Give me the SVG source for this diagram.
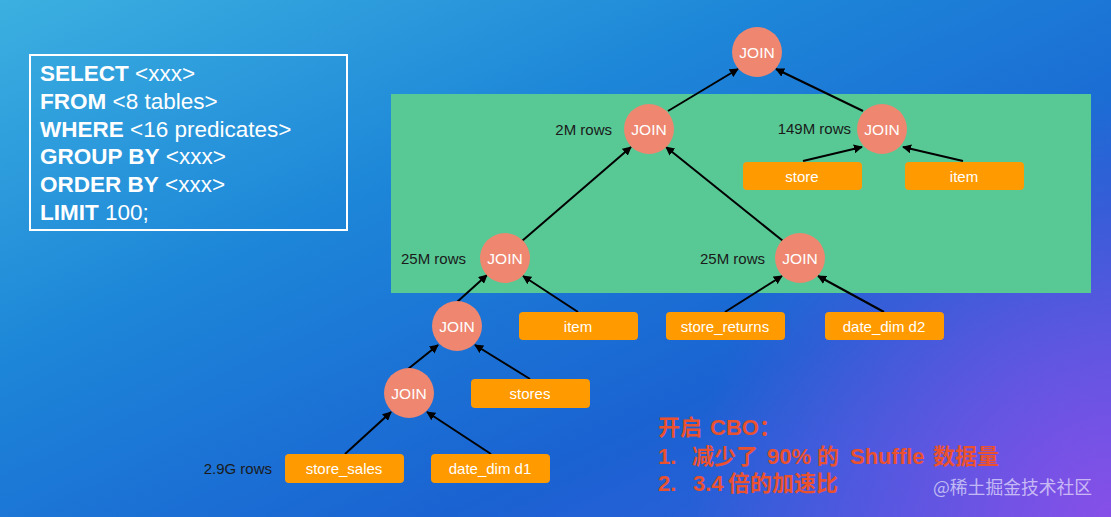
<svg xmlns="http://www.w3.org/2000/svg" width="1111" height="517" viewBox="0 0 1111 517">
<defs>
<linearGradient id="bg" x1="0" y1="0" x2="1" y2="1">
<stop offset="0" stop-color="#3cb0e0"/>
<stop offset="0.35" stop-color="#1d86d8"/>
<stop offset="0.7" stop-color="#1a62d2"/>
<stop offset="1" stop-color="#3d5ae0"/>
</linearGradient>
<radialGradient id="purp" cx="1111" cy="517" r="420" gradientUnits="userSpaceOnUse">
<stop offset="0" stop-color="#8a4fe8" stop-opacity="0.95"/>
<stop offset="1" stop-color="#8a4fe8" stop-opacity="0"/>
</radialGradient>
<marker id="ah" viewBox="0 0 10 10" refX="9" refY="5" markerWidth="9" markerHeight="9" markerUnits="userSpaceOnUse" orient="auto">
<path d="M0,0 L10,5 L0,10 z" fill="#000"/>
</marker>
<style>
.join circle{fill:#ee8670}
.join text{fill:#fff;font-family:"Liberation Sans",Arial,sans-serif;font-size:15.5px;text-anchor:middle;dominant-baseline:central}
.tbl rect{fill:#ff9a00}
.tbl text{fill:#fff;font-family:"Liberation Sans",Arial,sans-serif;font-size:15px;text-anchor:middle;dominant-baseline:central}
.rows{fill:#1a1a1a;font-family:"Liberation Sans",Arial,sans-serif;font-size:15px;text-anchor:end;dominant-baseline:central}
.sql{fill:#fff;font-family:"Liberation Sans",Arial,sans-serif;font-size:22.5px}
.sql tspan.k{font-weight:bold}
.red{fill:#e9512f;font-family:"Liberation Sans","Noto Sans CJK SC",sans-serif;font-size:22px;font-weight:bold}
#connectors line{stroke:#000;stroke-width:2;marker-end:url(#ah)}
</style>
</defs>
<rect width="1111" height="517" fill="url(#bg)"/>
<rect width="1111" height="517" fill="url(#purp)"/>

<g id="sql-box">
<rect x="30" y="55" width="317" height="175" fill="none" stroke="#fff" stroke-width="2"/>
<text class="sql" x="40" y="81"><tspan class="k">SELECT</tspan> &lt;xxx&gt;</text>
<text class="sql" x="40" y="109"><tspan class="k">FROM</tspan> &lt;8 tables&gt;</text>
<text class="sql" x="40" y="137"><tspan class="k">WHERE</tspan> &lt;16 predicates&gt;</text>
<text class="sql" x="40" y="164"><tspan class="k">GROUP BY</tspan> &lt;xxx&gt;</text>
<text class="sql" x="40" y="192"><tspan class="k">ORDER BY</tspan> &lt;xxx&gt;</text>
<text class="sql" x="40" y="220"><tspan class="k">LIMIT</tspan> 100;</text>
</g>

<rect id="highlight" x="391" y="94" width="700" height="199" fill="#58c995"/>

<g id="connectors">
<line x1="668" y1="111" x2="738" y2="69"/>
<line x1="863" y1="111" x2="776" y2="69"/>
<line x1="803" y1="161" x2="862" y2="147"/>
<line x1="963" y1="161" x2="903" y2="147"/>
<line x1="522" y1="241" x2="631" y2="147"/>
<line x1="783" y1="241" x2="666" y2="147"/>
<line x1="457" y1="302" x2="487" y2="275"/>
<line x1="578" y1="312" x2="523" y2="276"/>
<line x1="725" y1="312" x2="782" y2="276"/>
<line x1="884" y1="312" x2="818" y2="276"/>
<line x1="408" y1="369" x2="438" y2="345"/>
<line x1="530" y1="379" x2="475" y2="345"/>
<line x1="345" y1="454" x2="391" y2="412"/>
<line x1="491" y1="454" x2="427" y2="412"/>
</g>

<g id="join-root" class="join"><circle cx="757" cy="52" r="25"/><text x="757" y="52">JOIN</text></g>
<g id="join-2m" class="join"><circle cx="649" cy="129" r="25"/><text x="649" y="129">JOIN</text></g>
<g id="join-149m" class="join"><circle cx="882" cy="129" r="25"/><text x="882" y="129">JOIN</text></g>
<g id="join-25m-left" class="join"><circle cx="505" cy="258" r="25"/><text x="505" y="258">JOIN</text></g>
<g id="join-25m-right" class="join"><circle cx="800" cy="258" r="25"/><text x="800" y="258">JOIN</text></g>
<g id="join-mid" class="join"><circle cx="457" cy="326" r="25"/><text x="457" y="326">JOIN</text></g>
<g id="join-low" class="join"><circle cx="409" cy="393" r="25"/><text x="409" y="393">JOIN</text></g>

<g id="tbl-store" class="tbl"><rect x="743" y="162" width="119" height="28" rx="4"/><text x="802" y="176">store</text></g>
<g id="tbl-item-top" class="tbl"><rect x="905" y="162" width="119" height="28" rx="4"/><text x="964" y="176">item</text></g>
<g id="tbl-item" class="tbl"><rect x="519" y="312" width="119" height="28" rx="4"/><text x="578" y="326">item</text></g>
<g id="tbl-store-returns" class="tbl"><rect x="666" y="312" width="119" height="28" rx="4"/><text x="725" y="326">store_returns</text></g>
<g id="tbl-date-dim-d2" class="tbl"><rect x="825" y="312" width="119" height="28" rx="4"/><text x="884" y="326">date_dim d2</text></g>
<g id="tbl-stores" class="tbl"><rect x="471" y="379" width="119" height="29" rx="4"/><text x="530" y="393.5">stores</text></g>
<g id="tbl-store-sales" class="tbl"><rect x="285" y="454" width="119" height="29" rx="4"/><text x="344" y="468.5">store_sales</text></g>
<g id="tbl-date-dim-d1" class="tbl"><rect x="431" y="454" width="119" height="29" rx="4"/><text x="490" y="468.5">date_dim d1</text></g>

<g id="row-labels">
<text class="rows" x="612" y="129">2M rows</text>
<text class="rows" x="851" y="128">149M rows</text>
<text class="rows" x="466" y="258">25M rows</text>
<text class="rows" x="765" y="258">25M rows</text>
<text class="rows" x="272" y="468">2.9G rows</text>
</g>

<g id="notes">
<text class="red" x="658" y="435">开启<tspan x="710">CBO：</tspan></text>
<text class="red" x="658" y="464">1.<tspan x="692">减少了</tspan><tspan x="767">90%</tspan><tspan x="817">的</tspan><tspan x="850">Shuffle</tspan><tspan x="933">数据量</tspan></text>
<text class="red" x="658" y="491">2.<tspan x="693">3.4</tspan><tspan x="728">倍的加速比</tspan></text>
</g>

<text x="933" y="494" fill="#ffffff" fill-opacity="0.6" font-family="'Noto Sans CJK SC',sans-serif" font-size="17.8">@稀土掘金技术社区</text>
</svg>
